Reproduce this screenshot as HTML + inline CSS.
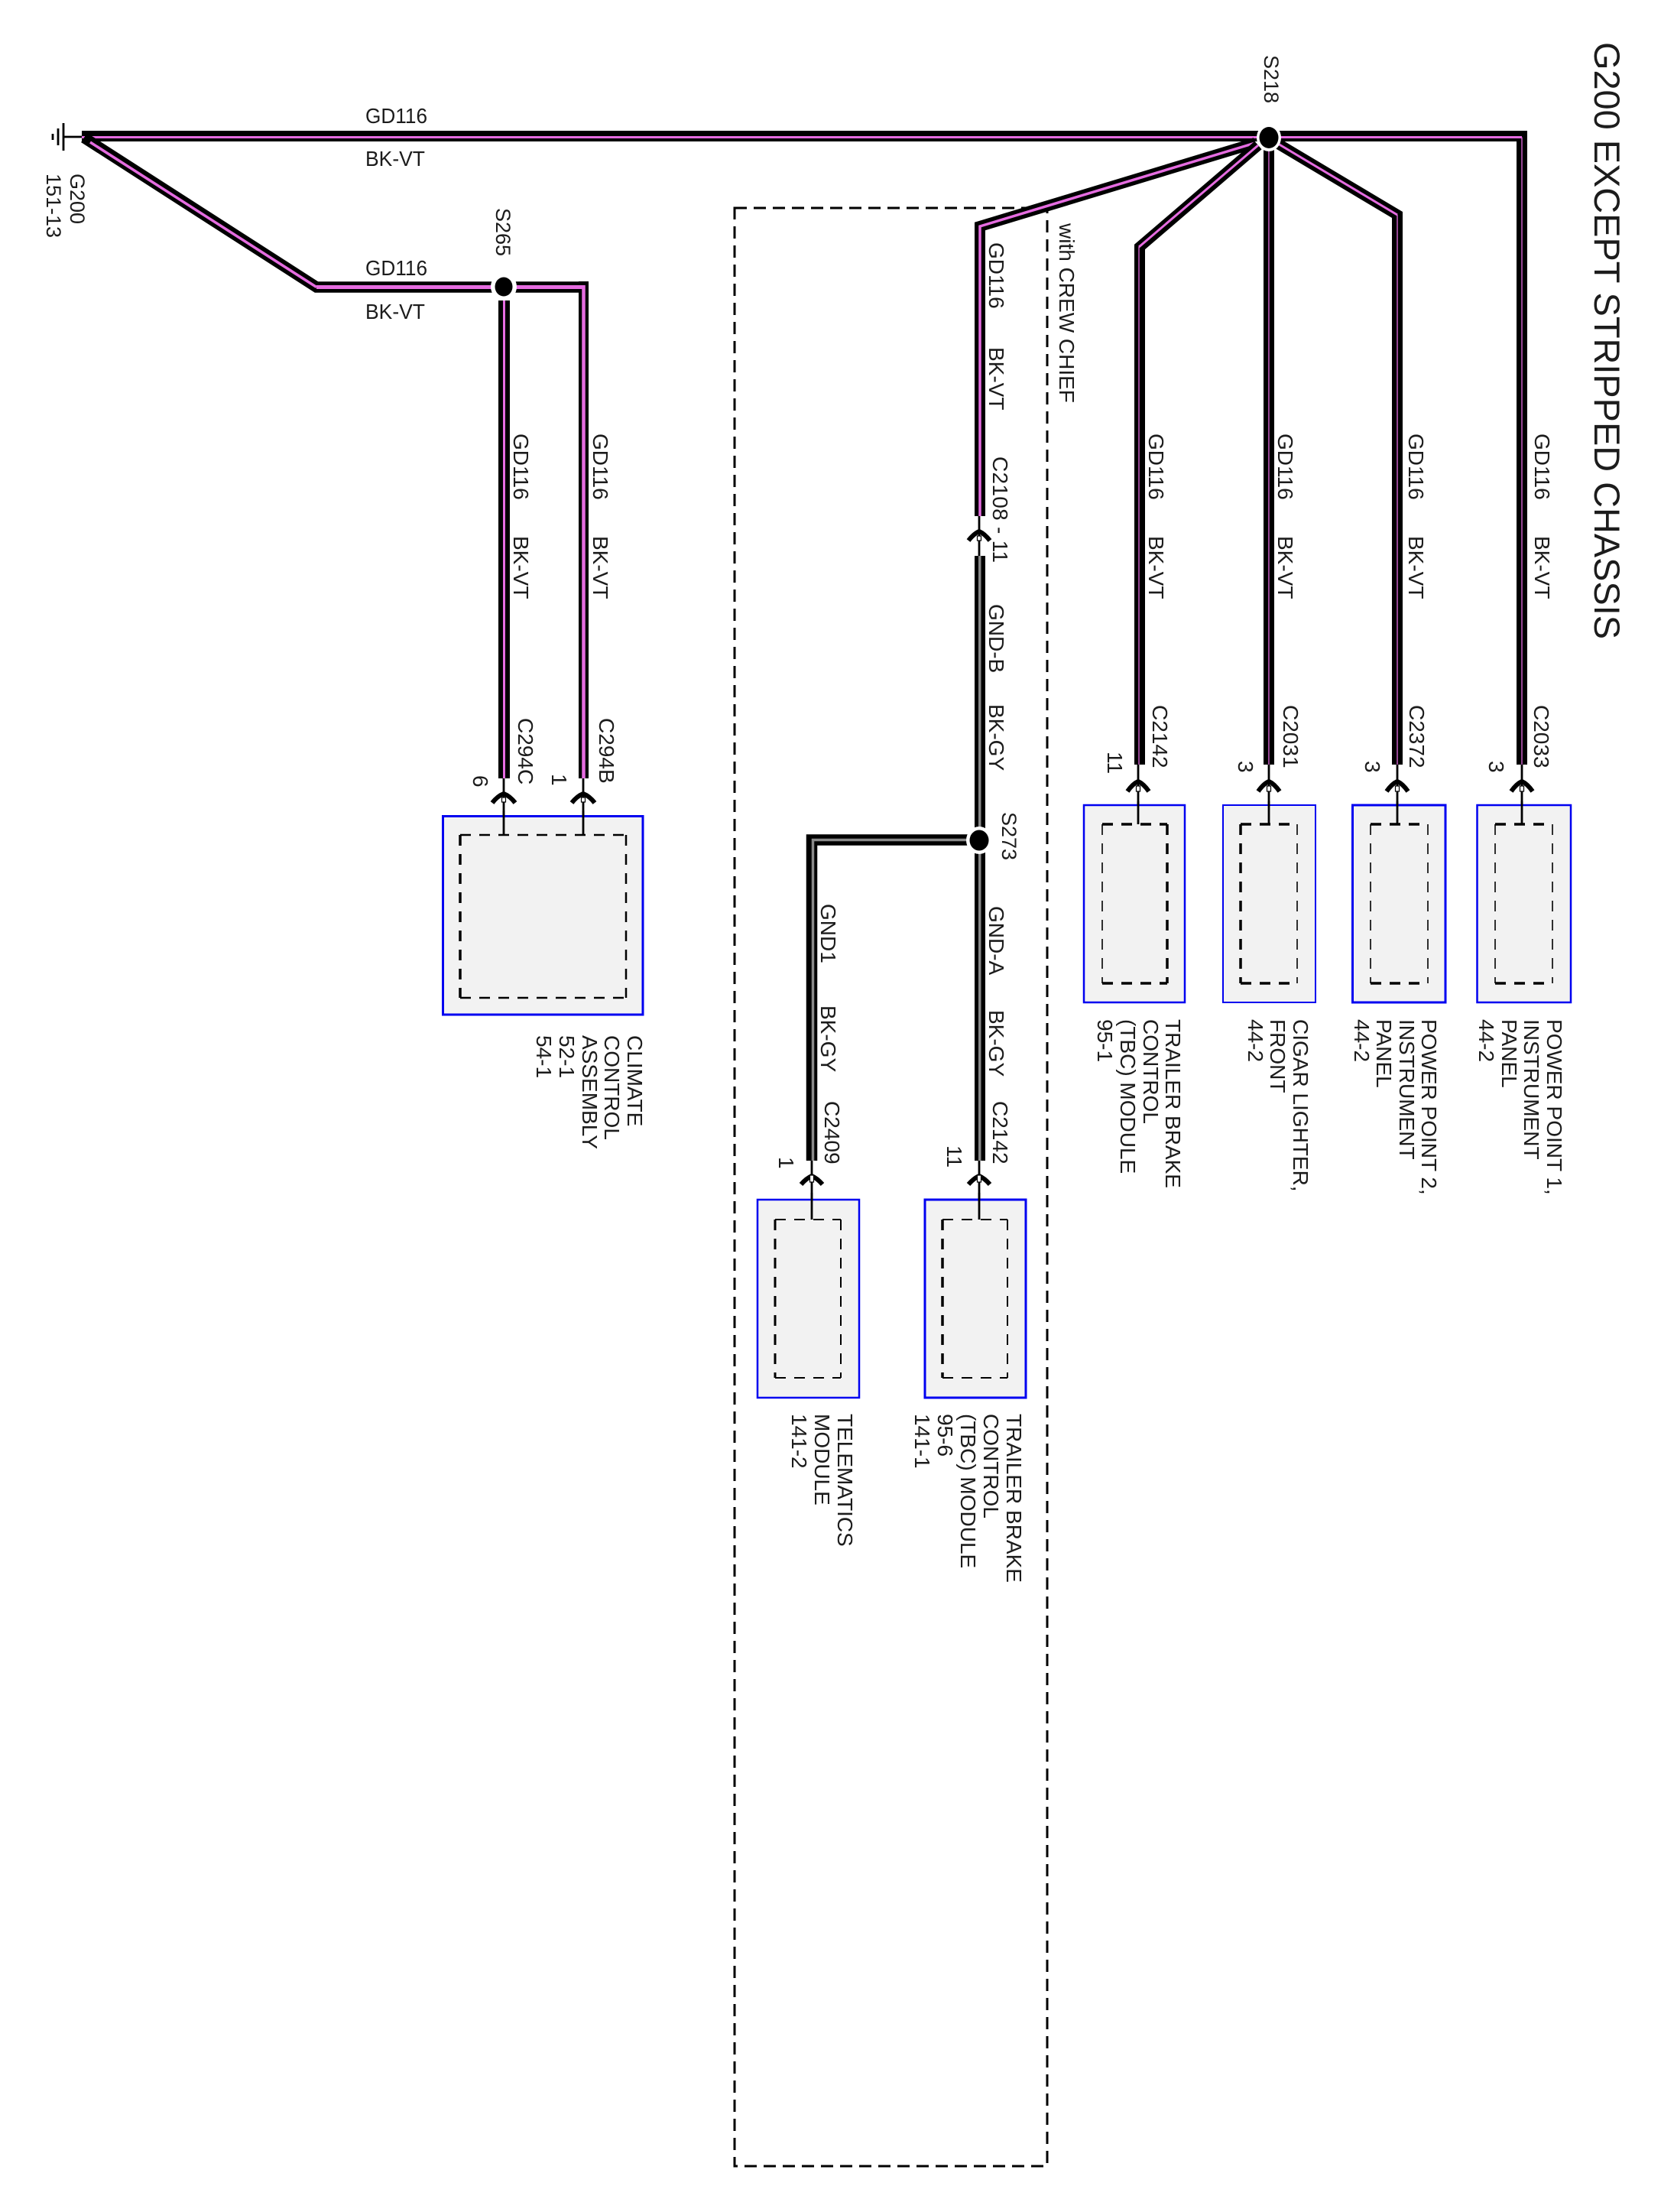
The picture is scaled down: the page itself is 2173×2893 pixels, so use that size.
<!DOCTYPE html>
<html><head><meta charset="utf-8">
<style>
html,body{margin:0;padding:0;background:#fff}
svg{display:block}
text{font-family:"Liberation Sans",sans-serif;font-size:28px;fill:#1c1c1c}
.b{fill:none;stroke:#000;stroke-width:14;stroke-linejoin:miter}
.p{fill:none;stroke:#e56ce0;stroke-width:3}
.p2{fill:none;stroke:#e56ce0;stroke-width:1.3}
.g{fill:none;stroke:#8a8a8a;stroke-width:3.5}
.t{stroke:#000;stroke-width:2.8;fill:none}
.ch{fill:none;stroke:#000;stroke-width:6}
.sq{fill:#fff;stroke:#000;stroke-width:1.2}
.box{fill:#f2f2f2;stroke:#0000f0}
.d{stroke:#000;fill:none;stroke-dasharray:14 11}
</style></head><body>
<svg width="2173" height="2893" viewBox="0 0 2173 2893" xmlns="http://www.w3.org/2000/svg">
<rect width="2173" height="2893" fill="#fff"/>

<!-- crew chief dashed outline -->
<rect x="961" y="272" width="409" height="2561" fill="none" stroke="#000" stroke-width="3" stroke-dasharray="16 9"/>

<!-- ground -->
<path class="t" d="M83,161V197M76,168V190M69,175V183M83,179H108"/>

<!-- main wires -->
<path class="b" d="M107,178H1991V1000"/>
<path class="p" d="M107,179.500H1991"/>
<path class="p2" d="M1991,179.500V1000"/>

<!-- S265 branch -->
<path class="b" style="stroke-width:14.500" d="M110,180L414,375.500H763"/>
<rect x="757" y="368" width="13" height="650" fill="#000"/>
<path class="p" style="stroke-width:3.500" d="M118,186L414,375.500"/>
<path class="p" style="stroke-width:5" d="M414,375.500H763.500"/>
<path class="p" style="stroke-width:4.500" d="M763.500,373V1018"/>
<rect x="652" y="393" width="15" height="625" fill="#000"/>
<rect x="658" y="393" width="3" height="625" fill="#e56ce0"/>

<!-- S218 branches -->
<path class="b" d="M1642,187L1282,296V675"/>
<path class="p" style="stroke-width:3.500" d="M1642,187L1282,296V675"/>
<path class="b" d="M1646,190L1491,323V1000"/>
<path class="p" d="M1646,190L1490,323"/>
<path class="p2" d="M1490,323V1000"/>
<rect x="1653" y="180" width="14" height="820" fill="#000"/>
<rect x="1659.300" y="180" width="1.300" height="820" fill="#e56ce0"/>
<path class="b" d="M1672,188L1828,281V1000"/>
<path class="p" d="M1672,188L1828,281"/>
<path class="p2" d="M1828,281V1000"/>

<!-- crew chief wires -->
<rect x="1275" y="727" width="14" height="791" fill="#000"/>
<rect x="1280" y="727" width="3.500" height="791" fill="#8a8a8a"/>
<path class="b" style="stroke-width:14.500" d="M1281,1098.500H1062V1518"/>
<path class="g" d="M1281,1098.500H1063.500V1518"/>

<!-- thin stubs -->
<path class="t" d="M659,1018V1092M763,1018V1092M1489,1000V1078M1660,1000V1078M1828,1000V1078M1991,1000V1078M1281,675V727M1281,1518V1595M1062,1518V1595"/>

<!-- component boxes -->
<rect class="box" x="579.500" y="1067.500" width="261.500" height="259.500" stroke-width="3"/>
<rect class="box" x="1418" y="1053" width="132" height="258" stroke-width="2.500"/>
<rect class="box" x="1600" y="1053" width="121" height="258" stroke-width="2"/>
<rect class="box" x="1769.500" y="1053" width="121.500" height="258" stroke-width="3"/>
<rect class="box" x="1932.500" y="1053" width="122.500" height="258" stroke-width="2.500"/>
<rect class="box" x="991" y="1569" width="133" height="259" stroke-width="2.500"/>
<rect class="box" x="1210" y="1569" width="132" height="259" stroke-width="3"/>

<!-- stubs re-drawn over boxes -->
<path class="t" d="M659,1060V1092M763,1060V1092M1489,1048V1078M1660,1048V1078M1828,1048V1078M1991,1048V1078M1281,1560V1595M1062,1560V1595"/>

<!-- inner dashed -->
<g>
<path class="d" stroke-width="2.500" d="M602,1092H819M602,1305H819M819,1092V1305"/>
<path class="d" stroke-width="3.500" d="M602,1092V1305"/>
<path class="d" stroke-width="3.500" d="M1442,1078H1527M1442,1286H1527M1527,1078V1286"/>
<path class="d" stroke-width="1.600" d="M1442,1078V1286"/>
<path class="d" stroke-width="3.500" d="M1623,1078H1697M1623,1286H1697M1623,1078V1286"/>
<path class="d" stroke-width="1.600" d="M1697,1078V1286"/>
<path class="d" stroke-width="3.500" d="M1793,1078H1868M1793,1286H1868"/>
<path class="d" stroke-width="1.600" d="M1793,1078V1286M1868,1078V1286"/>
<path class="d" stroke-width="3.500" d="M1956,1078H2031M1956,1286H2031"/>
<path class="d" stroke-width="1.600" d="M1956,1078V1286M2031,1078V1286"/>
<path class="d" stroke-width="2" d="M1014,1595H1100M1014,1802H1100M1100,1595V1802"/>
<path class="d" stroke-width="3" d="M1014,1595V1802"/>
<path class="d" stroke-width="2" d="M1233,1595H1318M1233,1802H1318M1318,1595V1802"/>
<path class="d" stroke-width="3.500" d="M1233,1595V1802"/>
</g>

<!-- connector chevrons -->
<path class="ch" d="M644,1050Q651,1041 659,1038Q667,1041 674,1050"/><rect class="sq" x="656.500" y="1043" width="5" height="6"/>
<path class="ch" d="M748,1050Q755,1041 763,1038Q771,1041 778,1050"/><rect class="sq" x="760.500" y="1043" width="5" height="6"/>
<path class="ch" d="M1475,1035Q1482,1025 1489,1022Q1496,1025 1503,1035"/><rect class="sq" x="1486.500" y="1028" width="5" height="7"/>
<path class="ch" d="M1646,1035Q1653,1025 1660,1022Q1667,1025 1674,1035"/><rect class="sq" x="1657.500" y="1028" width="5" height="7"/>
<path class="ch" d="M1814,1035Q1821,1025 1828,1022Q1835,1025 1842,1035"/><rect class="sq" x="1825.500" y="1028" width="5" height="7"/>
<path class="ch" d="M1977,1035Q1984,1025 1991,1022Q1998,1025 2005,1035"/><rect class="sq" x="1988.500" y="1028" width="5" height="7"/>
<path class="ch" d="M1267,707Q1274,698 1281,695Q1288,698 1295,707"/><rect class="sq" x="1278.500" y="701" width="5" height="6"/>
<path class="ch" d="M1048,1549Q1055,1541 1062,1538Q1069,1541 1076,1549"/><rect class="sq" x="1059.500" y="1537" width="5" height="9"/>
<path class="ch" d="M1267,1549Q1274,1541 1281,1538Q1288,1541 1295,1549"/><rect class="sq" x="1278.500" y="1537" width="5" height="9"/>

<!-- splices -->
<ellipse cx="659" cy="375" rx="17" ry="18" fill="#fff"/><ellipse cx="659" cy="375" rx="11.500" ry="12.500" fill="#000"/>
<ellipse cx="1660" cy="180" rx="16" ry="18" fill="#fff"/><ellipse cx="1660" cy="180" rx="12.500" ry="14" fill="#000"/>
<ellipse cx="1281" cy="1099" rx="17" ry="18" fill="#fff"/><ellipse cx="1281" cy="1099" rx="12.500" ry="13.500" fill="#000"/>

<!-- horizontal labels -->
<text x="478" y="161" textLength="81" lengthAdjust="spacingAndGlyphs">GD116</text>
<text x="478" y="217" textLength="78" lengthAdjust="spacingAndGlyphs">BK-VT</text>
<text x="478" y="360" textLength="81" lengthAdjust="spacingAndGlyphs">GD116</text>
<text x="478" y="417" textLength="78" lengthAdjust="spacingAndGlyphs">BK-VT</text>

<!-- title -->
<text transform="translate(2086,55) rotate(90)" style="font-size:47px" textLength="781" lengthAdjust="spacingAndGlyphs">G200 EXCEPT STRIPPED CHASSIS</text>

<!-- rotated labels -->
<g>
<text transform="translate(92,227) rotate(90)" style="font-size:27px">G200</text>
<text transform="translate(61,227) rotate(90)" style="font-size:27px">151-13</text>
<text transform="translate(649,272) rotate(90)" style="font-size:27px">S265</text>
<text transform="translate(1654,72) rotate(90)" style="font-size:27px">S218</text>
<text transform="translate(1311,1062) rotate(90)" style="font-size:27px">S273</text>

<text transform="translate(672,567) rotate(90)">GD116</text>
<text transform="translate(672,701) rotate(90)">BK-VT</text>
<text transform="translate(678,939) rotate(90)">C294C</text>
<text transform="translate(619,1014) rotate(90)">6</text>
<text transform="translate(776,567) rotate(90)">GD116</text>
<text transform="translate(776,701) rotate(90)">BK-VT</text>
<text transform="translate(784,939) rotate(90)">C294B</text>
<text transform="translate(722,1012) rotate(90)">1</text>

<text transform="translate(821,1354) rotate(90)">CLIMATE</text>
<text transform="translate(791,1354) rotate(90)">CONTROL</text>
<text transform="translate(762,1354) rotate(90)">ASSEMBLY</text>
<text transform="translate(732,1354) rotate(90)">52-1</text>
<text transform="translate(702,1354) rotate(90)">54-1</text>

<text transform="translate(1294,317) rotate(90)">GD116</text>
<text transform="translate(1294,454) rotate(90)">BK-VT</text>
<text transform="translate(1299,597) rotate(90)" textLength="139" lengthAdjust="spacing">C2108 - 11</text>
<text transform="translate(1386,292) rotate(90)">with CREW CHIEF</text>
<text transform="translate(1294,790) rotate(90)">GND-B</text>
<text transform="translate(1294,921) rotate(90)">BK-GY</text>
<text transform="translate(1294,1185) rotate(90)">GND-A</text>
<text transform="translate(1294,1321) rotate(90)">BK-GY</text>
<text transform="translate(1299,1440) rotate(90)">C2142</text>
<text transform="translate(1239,1498) rotate(90)">11</text>
<text transform="translate(1074,1182) rotate(90)">GND1</text>
<text transform="translate(1074,1315) rotate(90)">BK-GY</text>
<text transform="translate(1079,1440) rotate(90)">C2409</text>
<text transform="translate(1019,1513) rotate(90)">1</text>

<text transform="translate(1503,567) rotate(90)">GD116</text>
<text transform="translate(1503,701) rotate(90)">BK-VT</text>
<text transform="translate(1508,922) rotate(90)">C2142</text>
<text transform="translate(1449,983) rotate(90)">11</text>
<text transform="translate(1672,567) rotate(90)">GD116</text>
<text transform="translate(1672,701) rotate(90)">BK-VT</text>
<text transform="translate(1679,922) rotate(90)">C2031</text>
<text transform="translate(1620,995) rotate(90)">3</text>
<text transform="translate(1843,567) rotate(90)">GD116</text>
<text transform="translate(1843,701) rotate(90)">BK-VT</text>
<text transform="translate(1844,922) rotate(90)">C2372</text>
<text transform="translate(1786,995) rotate(90)">3</text>
<text transform="translate(2008,567) rotate(90)">GD116</text>
<text transform="translate(2008,701) rotate(90)">BK-VT</text>
<text transform="translate(2007,922) rotate(90)">C2033</text>
<text transform="translate(1948,995) rotate(90)">3</text>

<text transform="translate(1525,1333) rotate(90)">TRAILER BRAKE</text>
<text transform="translate(1496,1333) rotate(90)">CONTROL</text>
<text transform="translate(1466,1333) rotate(90)">(TBC) MODULE</text>
<text transform="translate(1436,1333) rotate(90)">95-1</text>

<text transform="translate(1692,1333) rotate(90)">CIGAR LIGHTER,</text>
<text transform="translate(1662,1333) rotate(90)">FRONT</text>
<text transform="translate(1633,1333) rotate(90)">44-2</text>

<text transform="translate(1860,1333) rotate(90)">POWER POINT 2,</text>
<text transform="translate(1831,1333) rotate(90)">INSTRUMENT</text>
<text transform="translate(1801,1333) rotate(90)">PANEL</text>
<text transform="translate(1772,1333) rotate(90)">44-2</text>

<text transform="translate(2024,1333) rotate(90)">POWER POINT 1,</text>
<text transform="translate(1994,1333) rotate(90)">INSTRUMENT</text>
<text transform="translate(1965,1333) rotate(90)">PANEL</text>
<text transform="translate(1935,1333) rotate(90)">44-2</text>

<text transform="translate(1096,1849) rotate(90)">TELEMATICS</text>
<text transform="translate(1066,1849) rotate(90)">MODULE</text>
<text transform="translate(1036,1849) rotate(90)">141-2</text>

<text transform="translate(1317,1849) rotate(90)">TRAILER BRAKE</text>
<text transform="translate(1287,1849) rotate(90)">CONTROL</text>
<text transform="translate(1257,1849) rotate(90)">(TBC) MODULE</text>
<text transform="translate(1227,1849) rotate(90)">95-6</text>
<text transform="translate(1197,1849) rotate(90)">141-1</text>
</g>
</svg>
</body></html>
